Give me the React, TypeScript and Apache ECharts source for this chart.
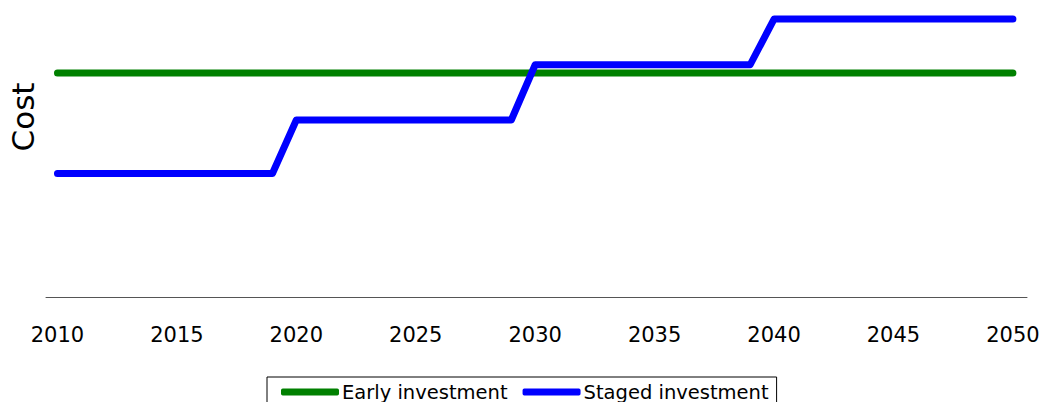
import React, { useEffect, useRef } from "react";
import * as echarts from "echarts";

const earlyYears = [2010, 2050];
const earlyCost = [75.4, 75.4];

const stagedYears = [2010, 2019, 2020, 2029, 2030, 2039, 2040, 2050];
const stagedCost = [41.6, 41.6, 59.6, 59.6, 78.2, 78.2, 93.6, 93.6];

const seriesNames = ["Early investment", "Staged investment"];
const yTitle = "Cost";

const FONT = "DejaVu Sans";

export default function App() {
  const ref = useRef<HTMLDivElement>(null);
  useEffect(() => {
    if (!ref.current) return;
    const chart = echarts.init(ref.current, null, { renderer: "svg" });
    chart.setOption({
      animation: false,
      backgroundColor: "#fff",
      grid: { left: 46, right: 16, top: 0, bottom: 105, containLabel: false },
      xAxis: {
        type: "value",
        min: 2009.52,
        max: 2050.59,
        splitNumber: 8,
        axisLine: { show: true, lineStyle: { color: "#555", width: 1 } },
        axisTick: { show: false },
        splitLine: { show: false },
        axisLabel: {
          margin: 27,
          fontFamily: FONT,
          fontSize: 21,
          color: "#000",
          formatter: (v: number) => (Math.abs(v % 5) < 1e-6 ? String(v) : ""),
        },
      },
      yAxis: {
        type: "value",
        min: 0,
        max: 100,
        axisLine: { show: false },
        axisTick: { show: false },
        axisLabel: { show: false },
        splitLine: { show: false },
      },
      legend: {
        left: 267,
        top: 377,
        data: seriesNames,
        icon: "roundRect",
        itemWidth: 58,
        itemHeight: 7,
        itemGap: 15,
        borderColor: "#000",
        borderWidth: 1,
        borderRadius: 0,
        padding: [5, 8, 6, 14],
        textStyle: { fontFamily: FONT, fontSize: 19.5, color: "#000", padding: [0, 0, 0, -2] },
      },
      graphic: [
        {
          type: "text",
          x: 22.5,
          y: 117,
          rotation: Math.PI / 2,
          style: {
            text: yTitle,
            font: `31px "${FONT}"`,
            fill: "#000",
            align: "center",
            verticalAlign: "middle",
          },
        },
      ],
      series: [
        {
          name: seriesNames[0],
          type: "line",
          data: earlyYears.map((y, i) => [y, earlyCost[i]]),
          showSymbol: false,
          clip: false,
          color: "#008000",
          lineStyle: { width: 7, color: "#008000", cap: "round", join: "round" },
        },
        {
          name: seriesNames[1],
          type: "line",
          data: stagedYears.map((y, i) => [y, stagedCost[i]]),
          showSymbol: false,
          clip: false,
          color: "#0000ff",
          lineStyle: { width: 7, color: "#0000ff", cap: "round", join: "round" },
        },
      ],
    });
    return () => chart.dispose();
  }, []);
  return (
    <div
      ref={ref}
      style={{ position: "fixed", left: 0, top: 0, width: 1043, height: 402 }}
    />
  );
}
